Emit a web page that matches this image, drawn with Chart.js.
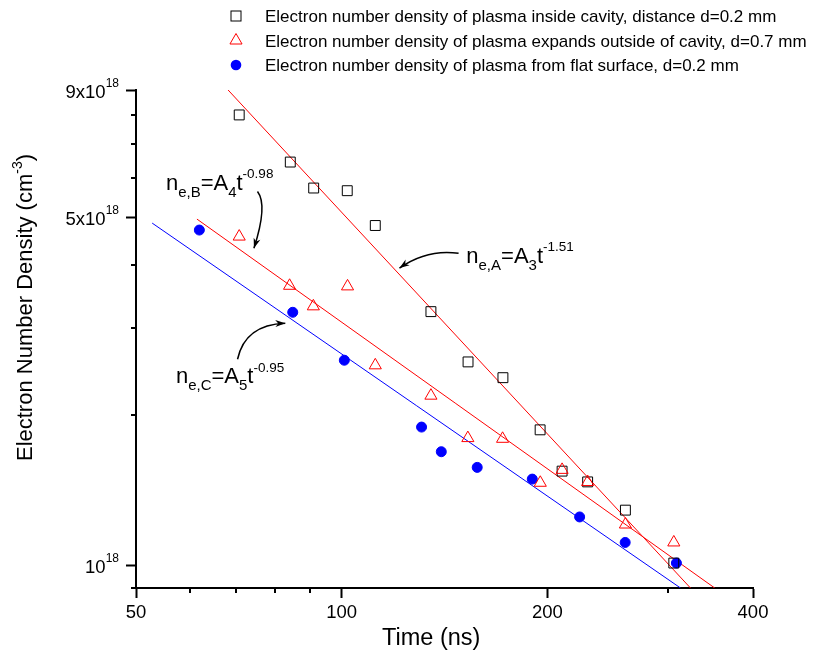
<!DOCTYPE html>
<html><head><meta charset="utf-8">
<script src="https://cdn.jsdelivr.net/npm/chart.js@4/dist/chart.umd.min.js"></script>
<style>html,body{margin:0;padding:0;background:#fff}#wrap{width:820px;height:656px;position:relative}</style>
</head><body><div id="wrap"><canvas id="c" width="820" height="656"></canvas></div>
<script>
const FONT = '"Liberation Sans", Arial, Helvetica, sans-serif';

// Series A: plasma inside cavity, d=0.2 mm  (time in ns, density in cm^-3)
const timeA = [70.8, 84.1, 91.0, 101.9, 112.0, 135.1, 153.1, 172.2, 195.2, 210.2, 229.1, 260.2, 306.3];
const densA = [8.02e18, 6.45e18, 5.72e18, 5.65e18, 4.81e18, 3.23e18, 2.56e18, 2.38e18, 1.87e18, 1.545e18, 1.47e18, 1.29e18, 1.01e18];
// Series B: plasma expands outside of cavity, d=0.7 mm
const timeB = [70.8, 83.9, 90.9, 102.0, 112.0, 135.1, 153.0, 172.0, 195.3, 210.2, 229.1, 260.2, 306.3];
const densB = [4.57e18, 3.64e18, 3.31e18, 3.63e18, 2.52e18, 2.19e18, 1.80e18, 1.794e18, 1.464e18, 1.554e18, 1.469e18, 1.207e18, 1.111e18];
// Series C: plasma from flat surface, d=0.2 mm
const timeC = [61.9, 84.8, 100.9, 130.9, 139.9, 157.9, 190.1, 223.0, 260.0, 309.0];
const densC = [4.71e18, 3.22e18, 2.58e18, 1.894e18, 1.69e18, 1.572e18, 1.489e18, 1.25e18, 1.111e18, 1.01e18];

// Power-law fit lines (end points)
const fitTimeA = [68.2, 324.0];
const fitDensA = [9.0e18, 0.9e18];
const fitTimeB = [61.4, 351.6];
const fitDensB = [4.955e18, 0.9e18];
const fitTimeC = [52.8, 313.3];
const fitDensC = [4.864e18, 0.9e18];

// Axis ticks
const xMajorTicks = [50, 100, 200, 400];
const xMinorTicks = [60, 70, 80, 90, 300];
const yMajorTicks = [1e18, 5e18, 9e18];
const yMajorLabels = [['10', '18'], ['5x10', '18'], ['9x10', '18']];
const yMinorTicks = [0.9e18, 2e18, 3e18, 4e18, 6e18, 7e18, 8e18];

const legendLabels = [
  'Electron number density of plasma inside cavity, distance d=0.2 mm',
  'Electron number density of plasma expands outside of cavity, d=0.7 mm',
  'Electron number density of plasma from flat surface, d=0.2 mm'
];

// Annotations: [main, sub, main, sub, main, sup] anchored in data space
const eqA = { at: [152.2, 4.05e18], parts: [['n','m'],['e,A','b'],['=A','m'],['3','b'],['t','m'],['-1.51','p']],
              arrow: [[148.3, 4.23e18], [133.4, 4.32e18], [121.5, 3.95e18]] };
const eqB = { at: [55.3, 5.67e18], parts: [['n','m'],['e,B','b'],['=A','m'],['4','b'],['t','m'],['-0.98','p']],
              arrow: [[75.3, 5.63e18], [78.0, 5.29e18], [74.4, 4.33e18]] };
const eqC = { at: [57.2, 2.319e18], parts: [['n','m'],['e,C','b'],['=A','m'],['5','b'],['t','m'],['-0.95','p']],
              arrow: [[70.4, 2.592e18], [72.2, 3.042e18], [82.7, 3.062e18]] };

const pts = (xs, ys) => xs.map((x, i) => ({ x: x, y: ys[i] }));

const RED = '#ff0000', BLUE = '#0000ff';

function drawEq(ctx, xs, ys, eq) {
  let x = xs.getPixelForValue(eq.at[0]);
  const y = ys.getPixelForValue(eq.at[1]);
  ctx.fillStyle = '#000';
  ctx.textAlign = 'left';
  ctx.textBaseline = 'alphabetic';
  for (const [t, k] of eq.parts) {
    let size = 22, dy = 0;
    if (k === 'b') { size = 15; dy = 7; }
    if (k === 'p') { size = 13.5; dy = -11.5; }
    ctx.font = size + 'px ' + FONT;
    ctx.fillText(t, x, y + dy);
    x += ctx.measureText(t).width;
  }
  const p = eq.arrow.map(a => [xs.getPixelForValue(a[0]), ys.getPixelForValue(a[1])]);
  ctx.strokeStyle = '#000';
  ctx.lineWidth = 1.5;
  ctx.beginPath();
  ctx.moveTo(p[0][0], p[0][1]);
  ctx.quadraticCurveTo(p[1][0], p[1][1], p[2][0], p[2][1]);
  ctx.stroke();
  const ang = Math.atan2(p[2][1] - p[1][1], p[2][0] - p[1][0]);
  const L = 10, W = 3.5;
  const tx = p[2][0], ty = p[2][1];
  ctx.beginPath();
  ctx.moveTo(tx, ty);
  ctx.lineTo(tx - L * Math.cos(ang) + W * Math.sin(ang), ty - L * Math.sin(ang) - W * Math.cos(ang));
  ctx.lineTo(tx - L * 0.7 * Math.cos(ang), ty - L * 0.7 * Math.sin(ang));
  ctx.lineTo(tx - L * Math.cos(ang) - W * Math.sin(ang), ty - L * Math.sin(ang) + W * Math.cos(ang));
  ctx.closePath();
  ctx.fillStyle = '#000';
  ctx.fill();
}

const decor = {
  id: 'decor',
  afterDraw(chart) {
    const ctx = chart.ctx;
    const xs = chart.scales.x, ys = chart.scales.y;
    const a = chart.chartArea;
    ctx.save();
    // minor ticks
    ctx.strokeStyle = '#000';
    ctx.lineWidth = 2;
    for (const v of xMinorTicks) {
      const px = Math.round(xs.getPixelForValue(v));
      ctx.beginPath(); ctx.moveTo(px, a.bottom); ctx.lineTo(px, a.bottom + 5); ctx.stroke();
    }
    for (const v of yMinorTicks) {
      const py = Math.round(ys.getPixelForValue(v));
      ctx.beginPath(); ctx.moveTo(a.left - 5, py); ctx.lineTo(a.left, py); ctx.stroke();
    }
    // y tick labels with superscripts
    ctx.fillStyle = '#000';
    ctx.textBaseline = 'alphabetic';
    ctx.textAlign = 'left';
    yMajorTicks.forEach((v, i) => {
      const py = ys.getPixelForValue(v);
      const [main, sup] = yMajorLabels[i];
      ctx.font = '12px ' + FONT;
      const ws = ctx.measureText(sup).width;
      ctx.font = '18.5px ' + FONT;
      const wm = ctx.measureText(main).width;
      const right = a.left - 17;
      ctx.fillText(main, right - ws - wm, py + 7.5);
      ctx.font = '12px ' + FONT;
      ctx.fillText(sup, right - ws, py - 3);
    });
    // x title
    ctx.font = '23.5px ' + FONT;
    ctx.fillText('Time (ns)', 382, 645);
    // y title (rotated)
    ctx.save();
    ctx.translate(32, 307.5);
    ctx.rotate(-Math.PI / 2);
    const t1 = 'Electron Number Density (cm', t2 = '-3', t3 = ')';
    ctx.font = '22px ' + FONT;
    const w1 = ctx.measureText(t1).width, w3 = ctx.measureText(t3).width;
    ctx.font = '14px ' + FONT;
    const w2 = ctx.measureText(t2).width;
    let sx = -(w1 + w2 + w3) / 2;
    ctx.font = '22px ' + FONT;
    ctx.fillText(t1, sx, 0);
    ctx.font = '14px ' + FONT;
    ctx.fillText(t2, sx + w1, -10);
    ctx.font = '22px ' + FONT;
    ctx.fillText(t3, sx + w1 + w2, 0);
    ctx.restore();
    // legend
    const rows = [16, 40.5, 65];
    const mx = 236;
    ctx.lineWidth = 1;
    // square
    ctx.strokeStyle = '#000';
    ctx.strokeRect(mx - 5, rows[0] - 5, 10, 10);
    // triangle
    ctx.strokeStyle = RED;
    ctx.beginPath();
    ctx.moveTo(mx, rows[1] - 7);
    ctx.lineTo(mx + 6.06, rows[1] + 3.5);
    ctx.lineTo(mx - 6.06, rows[1] + 3.5);
    ctx.closePath();
    ctx.stroke();
    // circle
    ctx.fillStyle = BLUE;
    ctx.beginPath();
    ctx.arc(mx, rows[2], 5.3, 0, Math.PI * 2);
    ctx.fill();
    ctx.fillStyle = '#000';
    ctx.font = '17px ' + FONT;
    legendLabels.forEach((t, i) => ctx.fillText(t, 265, rows[i] + 6));
    // equations and arrows
    drawEq(ctx, xs, ys, eqA);
    drawEq(ctx, xs, ys, eqB);
    drawEq(ctx, xs, ys, eqC);
    ctx.restore();
  }
};

new Chart(document.getElementById('c'), {
  type: 'scatter',
  data: {
    datasets: [
      { label: 'B', data: pts(timeB, densB), pointStyle: 'triangle', pointRadius: 7,
        borderColor: RED, backgroundColor: 'rgba(0,0,0,0)', pointBorderWidth: 1, showLine: false },
      { label: 'A', data: pts(timeA, densA), pointStyle: 'rect', pointRadius: 7,
        borderColor: '#000', backgroundColor: 'rgba(0,0,0,0)', pointBorderWidth: 1, showLine: false },
      { label: 'C', data: pts(timeC, densC), pointStyle: 'circle', pointRadius: 5,
        borderColor: BLUE, backgroundColor: BLUE, pointBorderWidth: 1, showLine: false },
      { label: 'fitA', data: pts(fitTimeA, fitDensA), showLine: true, pointRadius: 0,
        borderColor: RED, borderWidth: 1, fill: false },
      { label: 'fitB', data: pts(fitTimeB, fitDensB), showLine: true, pointRadius: 0,
        borderColor: RED, borderWidth: 1, fill: false },
      { label: 'fitC', data: pts(fitTimeC, fitDensC), showLine: true, pointRadius: 0,
        borderColor: BLUE, borderWidth: 1, fill: false }
    ]
  },
  options: {
    responsive: false,
    animation: false,
    events: [],
    layout: { padding: { top: 90, right: 67, left: 0, bottom: 0 } },
    plugins: { legend: { display: false }, tooltip: { enabled: false }, title: { display: false } },
    scales: {
      x: {
        type: 'logarithmic', min: 50, max: 400, bounds: 'data',
        afterBuildTicks: s => { s.ticks = xMajorTicks.map(v => ({ value: v })); },
        afterFit: s => { s.height = 68; },
        ticks: { autoSkip: false, maxRotation: 0, minRotation: 0, padding: 4, color: '#000',
                 font: { family: FONT, size: 18.5 }, callback: v => String(v) },
        grid: { display: true, drawOnChartArea: false, drawTicks: true, tickLength: 10, tickColor: '#000', tickWidth: 2 },
        border: { display: true, color: '#000', width: 2 },
        title: { display: false }
      },
      y: {
        type: 'logarithmic', min: 0.9e18, max: 9e18, bounds: 'data',
        afterBuildTicks: s => { s.ticks = yMajorTicks.map(v => ({ value: v })); },
        afterFit: s => { s.width = 136; },
        ticks: { display: false },
        grid: { display: true, drawOnChartArea: false, drawTicks: true, tickLength: 10, tickColor: '#000', tickWidth: 2 },
        border: { display: true, color: '#000', width: 2 },
        title: { display: false }
      }
    }
  },
  plugins: [decor]
});
</script>
</body></html>
